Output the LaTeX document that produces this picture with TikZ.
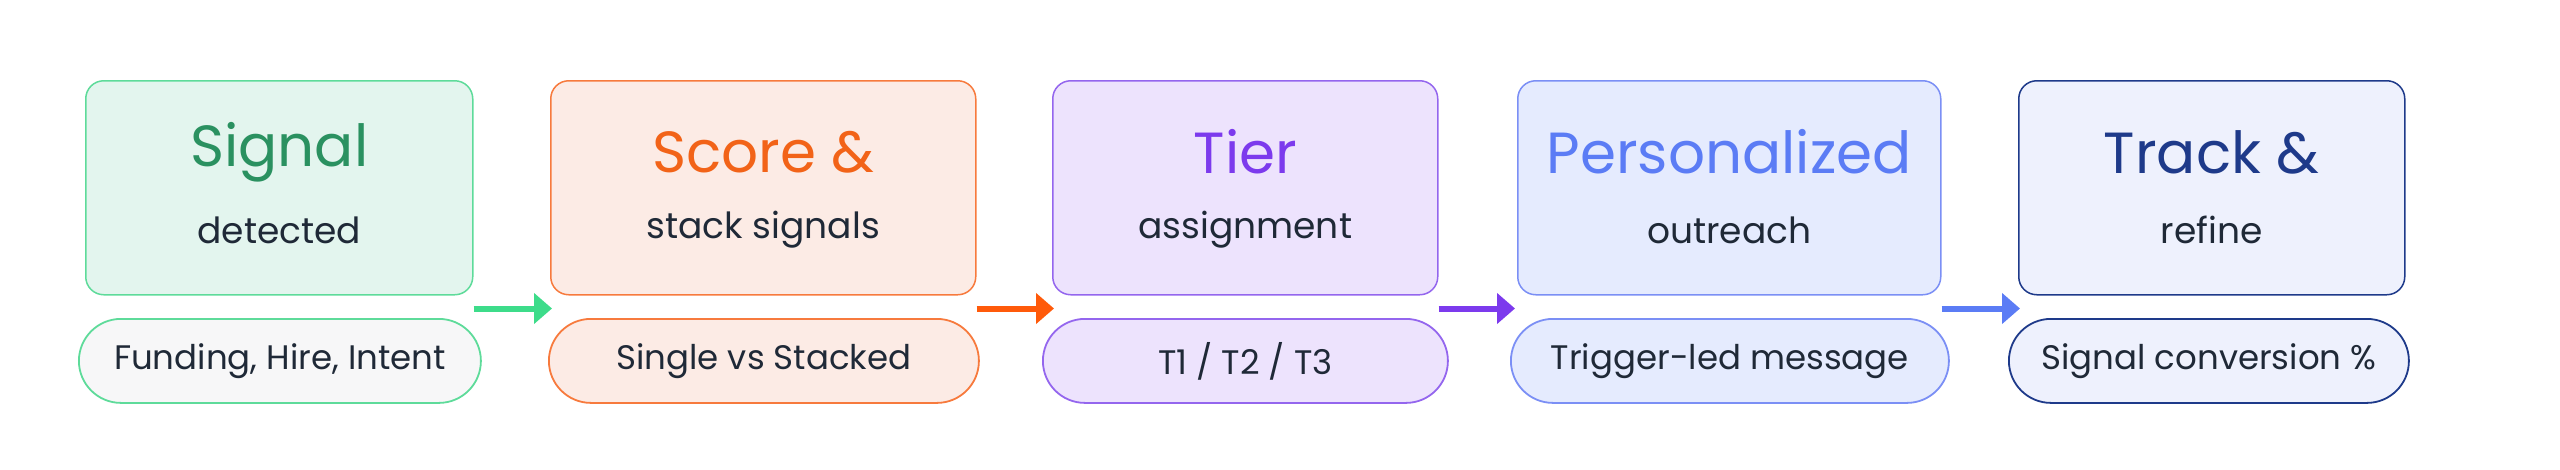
\documentclass[tikz,border=0pt]{standalone}
\usepackage{fontspec}
\setmainfont{Poppins}
\usetikzlibrary{arrows.meta, positioning, calc}
\definecolor{grnline}{HTML}{5EDB9A}
\definecolor{grnfill}{HTML}{E3F5EE}
\definecolor{grntext}{HTML}{2A9160}
\definecolor{grnarrow}{HTML}{3DDC8A}
\definecolor{orgline}{HTML}{F77A3D}
\definecolor{orgfill}{HTML}{FCEBE5}
\definecolor{orgtext}{HTML}{F26318}
\definecolor{orgarrow}{HTML}{FF5A0A}
\definecolor{purline}{HTML}{9466EE}
\definecolor{purfill}{HTML}{EDE3FD}
\definecolor{purtext}{HTML}{7C3AED}
\definecolor{bluline}{HTML}{7B8FF5}
\definecolor{blufill}{HTML}{E5EBFE}
\definecolor{blutext}{HTML}{5B7CF5}
\definecolor{navline}{HTML}{1E3A8A}
\definecolor{navfill}{HTML}{EEF1FD}
\definecolor{navtext}{HTML}{1E3A8A}
\definecolor{inktext}{HTML}{1F2937}
\definecolor{pillgray}{HTML}{F7F7F8}
\tikzset{
    stage/.style={
        rectangle,
        rounded corners=18pt,
        line width=1.5pt,
        minimum height=214pt,
        inner sep=0pt,
        anchor=north west
    },
    title/.style={
        font=\fontsize{58}{64}\selectfont
    },
    subtitle/.style={
        font=\fontsize{36}{42}\selectfont,
        text=inktext
    },
    pill/.style={
        rectangle,
        rounded corners=42pt,
        line width=1.8pt,
        minimum height=84pt,
        inner sep=0pt,
        anchor=north west,
        font=\fontsize{34}{40}\selectfont,
        text=inktext
    },
    flow/.style={
        line width=6pt,
        -{Triangle[length=18pt,width=30pt]}
    }
}
\begin{document}
\begin{tikzpicture}[x=1pt, y=-1pt]
\useasboundingbox (0,0) rectangle (2560,469);

% Stage boxes
\node[stage, draw=grnline, fill=grnfill, minimum width=387pt] (box1) at (85,80) {};
\node[stage, draw=orgline, fill=orgfill, minimum width=425pt] (box2) at (550,80) {};
\node[stage, draw=purline, fill=purfill, minimum width=385pt] (box3) at (1052,80) {};
\node[stage, draw=bluline, fill=blufill, minimum width=423pt] (box4) at (1517,80) {};
\node[stage, draw=navline, fill=navfill, minimum width=386pt] (box5) at (2018,80) {};

% Titles and subtitles
\node[title, text=grntext] (title1) at ($(box1.north)+(0,72)$) {Signal};
\node[subtitle] (sub1) at ($(box1.north)+(0,150)$) {detected};
\node[title, text=orgtext] (title2) at ($(box2.north)+(0,72)$) {Score \&};
\node[subtitle] (sub2) at ($(box2.north)+(0,150)$) {stack signals};
\node[title, text=purtext] (title3) at ($(box3.north)+(0,72)$) {Tier};
\node[subtitle] (sub3) at ($(box3.north)+(0,150)$) {assignment};
\node[title, text=blutext] (title4) at ($(box4.north)+(0,72)$) {Personalized};
\node[subtitle] (sub4) at ($(box4.north)+(0,150)$) {outreach};
\node[title, text=navtext] (title5) at ($(box5.north)+(0,72)$) {Track \&};
\node[subtitle] (sub5) at ($(box5.north)+(0,150)$) {refine};

% Pills
\node[pill, draw=grnline, fill=pillgray, minimum width=402pt] (pill1) at (78,318) {Funding, Hire, Intent};
\node[pill, draw=orgline, fill=orgfill, minimum width=430pt] (pill2) at (548,318) {Single vs Stacked};
\node[pill, draw=purline, fill=purfill, minimum width=405pt] (pill3) at (1042,318) {T1 / T2 / T3};
\node[pill, draw=bluline, fill=blufill, minimum width=438pt] (pill4) at (1510,318) {Trigger-led message};
\node[pill, draw=navline, fill=navfill, minimum width=400pt] (pill5) at (2008,318) {Signal conversion \%};

% Arrows
\draw[flow, grnarrow] ($(box1.south east)+(0,13)$) -- ($(box2.south west)+(2,13)$);
\draw[flow, orgarrow] ($(box2.south east)+(0,13)$) -- ($(box3.south west)+(2,13)$);
\draw[flow, purtext] ($(box3.south east)+(0,13)$) -- ($(box4.south west)+(-2,13)$);
\draw[flow, blutext] ($(box4.south east)+(0,13)$) -- ($(box5.south west)+(2,13)$);

\end{tikzpicture}
\end{document}
